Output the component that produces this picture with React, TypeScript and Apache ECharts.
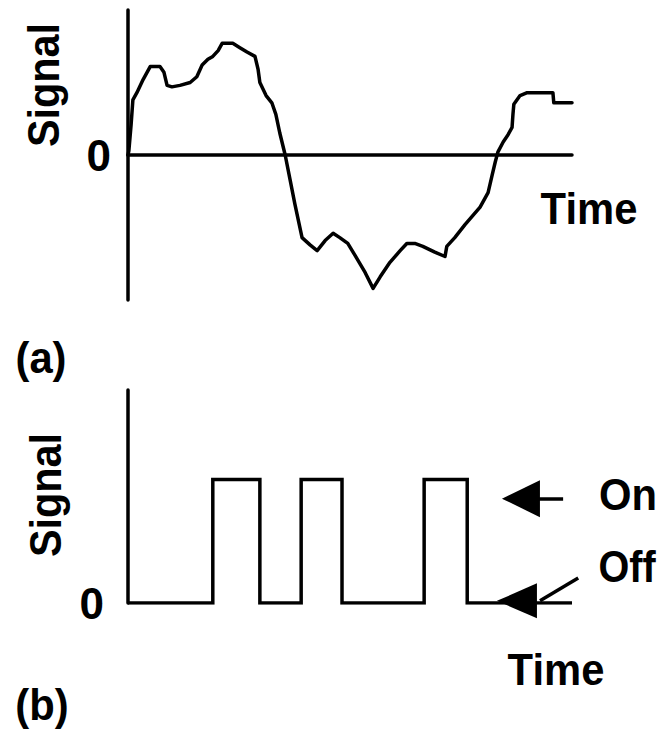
import React, { useEffect, useRef } from "react";
import * as echarts from "echarts";

// (a) analog signal trace
const curveTime = [0, 0.2, 0.7, 1.1, 2.0, 3.4, 5.0, 7.2, 8.1, 8.8, 9.9, 11.7, 14.0, 15.5, 16.7, 18.0, 19.1, 20.3, 21.2, 23.6, 25.2, 26.8, 28.6, 29.3, 29.7, 31.1, 32.4, 33.3, 34.2, 35.4, 36.5, 37.6, 39.2, 41.0, 42.6, 44.4, 46.2, 47.7, 49.5, 51.1, 53.4, 55.2, 56.8, 59.0, 61.3, 62.8, 64.6, 66.4, 69.1, 71.4, 71.8, 73.6, 75.9, 79.3, 81.1, 82.0, 82.7, 83.3, 84.5, 85.6, 86.5, 86.7, 86.9, 88.3, 89.9, 95.7, 95.9, 100];
const curveSignal = [0, 0.03, 0.21, 0.38, 0.43, 0.52, 0.61, 0.61, 0.57, 0.48, 0.47, 0.48, 0.50, 0.54, 0.62, 0.66, 0.68, 0.72, 0.77, 0.77, 0.74, 0.71, 0.68, 0.59, 0.50, 0.41, 0.36, 0.28, 0.15, 0.00, -0.17, -0.34, -0.57, -0.62, -0.66, -0.59, -0.54, -0.57, -0.61, -0.69, -0.81, -0.92, -0.84, -0.74, -0.66, -0.61, -0.61, -0.63, -0.67, -0.70, -0.63, -0.57, -0.48, -0.36, -0.26, -0.14, -0.05, 0.02, 0.09, 0.14, 0.19, 0.28, 0.35, 0.41, 0.43, 0.43, 0.36, 0.36];

// (b) on/off pulses
const pulseStarts = [19.1, 39.0, 66.7];
const pulseEnds = [29.7, 48.2, 76.4];
const onLevel = 0.58;
const offLevel = 0;
const timeEnd = 100;

// annotation arrows (time, signal)
const onArrowHead = [88.5, 0.49];
const onArrowTail = [98.0, 0.49];
const offArrowHead = [87.6, 0.01];
const offArrowShaftStart = [92.8, 0.01];
const offArrowShaftEnd = [101.4, 0.117];

// texts
const yName = "Signal";
const xName = "Time";
const zeroLabel = "0";
const onText = "On";
const offText = "Off";
const panelA = "(a)";
const panelB = "(b)";

const FONT_FAMILY = "'Liberation Sans', Arial, Helvetica, sans-serif";
const FONT = `bold 44px ${FONT_FAMILY}`;
const LINE_W = 3.5;

function label(text: string, x: number, y: number, rotation = 0, scaleX = 0.95) {
  return {
    type: "text",
    x,
    y,
    rotation,
    scaleX,
    silent: true,
    style: {
      text,
      font: FONT,
      fill: "#000",
      align: "center",
      verticalAlign: "middle",
      textAlign: "center",
      textVerticalAlign: "middle",
    },
  };
}

export default function App() {
  const ref = useRef<HTMLDivElement>(null);

  useEffect(() => {
    if (!ref.current) return;
    const chart = echarts.init(ref.current, undefined, { renderer: "svg" });

    const curveData = curveTime.map((t, i) => [t, curveSignal[i]]);
    const pulseData: number[][] = [[0, offLevel]];
    pulseStarts.forEach((s, i) => {
      pulseData.push([s, offLevel], [s, onLevel], [pulseEnds[i], onLevel], [pulseEnds[i], offLevel]);
    });
    pulseData.push([timeEnd, offLevel]);

    const axisLineStyle = { color: "#000", width: LINE_W };
    const labelBase = {
      color: "#000",
      fontFamily: FONT_FAMILY,
      fontWeight: "bold" as const,
      fontSize: 44,
    };

    chart.setOption({
      animation: false,
      backgroundColor: "#fff",
      grid: [
        { left: 128, top: 10, width: 444, height: 290 },
        { left: 128, top: 390, width: 461.76, height: 213 },
      ],
      xAxis: [
        {
          type: "value",
          gridIndex: 0,
          min: 0,
          max: 100,
          axisLine: { show: true, onZero: true, lineStyle: axisLineStyle },
          axisTick: { show: false },
          axisLabel: { show: false },
          splitLine: { show: false },
        },
        {
          type: "value",
          gridIndex: 1,
          min: 0,
          max: 104,
          axisLine: { show: false },
          axisTick: { show: false },
          axisLabel: { show: false },
          splitLine: { show: false },
        },
      ],
      yAxis: [
        {
          type: "value",
          gridIndex: 0,
          min: -1,
          max: 1,
          interval: 1,
          axisLine: { show: true, onZero: false, lineStyle: axisLineStyle },
          axisTick: { show: false },
          splitLine: { show: false },
          axisLabel: {
            ...labelBase,
            margin: 17,
            padding: [26, 0, 0, 0],
            formatter: (v: number) => (v === 0 ? zeroLabel : ""),
          },
        },
        {
          type: "value",
          gridIndex: 1,
          min: 0,
          max: 1,
          interval: 1,
          axisLine: { show: true, onZero: false, lineStyle: axisLineStyle },
          axisTick: { show: false },
          splitLine: { show: false },
          axisLabel: {
            ...labelBase,
            margin: 24,
            padding: [20, 0, 0, 0],
            formatter: (v: number) => (v === 0 ? zeroLabel : ""),
          },
        },
      ],
      series: [
        {
          type: "line",
          xAxisIndex: 0,
          yAxisIndex: 0,
          data: curveData,
          symbol: "none",
          silent: true,
          lineStyle: { color: "#000", width: LINE_W, join: "round", cap: "round" },
        },
        {
          type: "line",
          xAxisIndex: 1,
          yAxisIndex: 1,
          data: pulseData,
          symbol: "none",
          silent: true,
          lineStyle: { color: "#000", width: LINE_W, join: "miter" },
          markPoint: {
            silent: true,
            label: { show: false },
            itemStyle: { color: "#000" },
            data: [
              { coord: onArrowHead, symbol: "triangle", symbolRotate: 90, symbolSize: [37, 38] },
              { coord: offArrowHead, symbol: "triangle", symbolRotate: 90, symbolSize: [35, 40] },
            ],
          },
          markLine: {
            silent: true,
            symbol: ["none", "none"],
            label: { show: false },
            lineStyle: { color: "#000", width: LINE_W, type: "solid" },
            data: [
              [{ coord: onArrowHead }, { coord: onArrowTail }],
              [{ coord: offArrowShaftStart }, { coord: offArrowShaftEnd }],
            ],
          },
        },
      ],
      graphic: [
        label(yName, 44, 85, Math.PI / 2, 0.94),
        label(xName, 589, 209),
        label(panelA, 41, 358),
        label(yName, 46, 495, Math.PI / 2, 0.94),
        label(onText, 628, 495),
        label(offText, 627, 567, 0, 0.9),
        label(xName, 556, 670),
        label(panelB, 42, 705),
      ],
    });

    return () => chart.dispose();
  }, []);

  return (
    <div
      ref={ref}
      style={{ position: "absolute", left: 0, top: 0, width: 672, height: 730 }}
    />
  );
}
